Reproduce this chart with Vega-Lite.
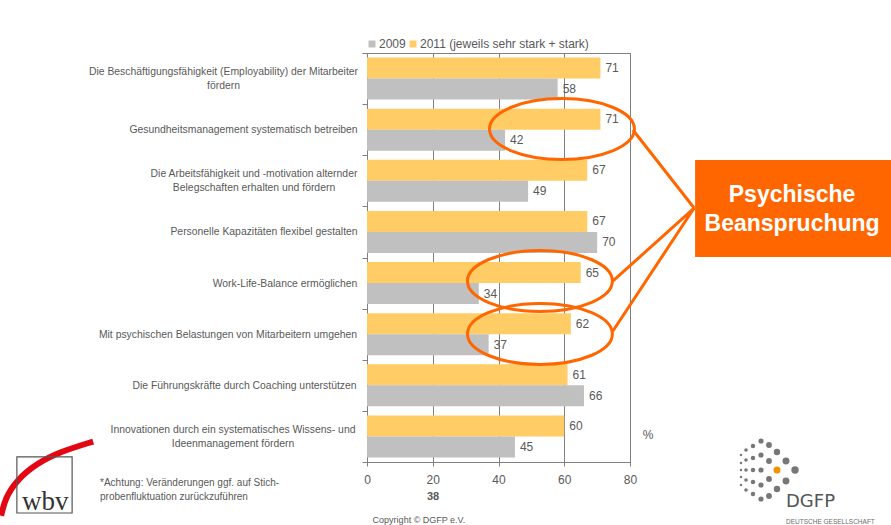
{
  "$schema": "https://vega.github.io/schema/vega-lite/v6.json",
  "width": 263,
  "height": 409,
  "autosize": {"type": "none"},
  "padding": {"left": 367, "top": 53, "right": 261, "bottom": 63},
  "background": "white",
  "config": {"view": {"stroke": "#808080", "strokeWidth": 1}, "font": "Liberation Sans"},
  "datasets": {
    "bars": [
      {"cat": "Die Beschäftigungsfähigkeit (Employability) der Mitarbeiter|fördern", "year": "2011", "value": 71},
      {"cat": "Die Beschäftigungsfähigkeit (Employability) der Mitarbeiter|fördern", "year": "2009", "value": 58},
      {"cat": "Gesundheitsmanagement systematisch betreiben", "year": "2011", "value": 71},
      {"cat": "Gesundheitsmanagement systematisch betreiben", "year": "2009", "value": 42},
      {"cat": "Die Arbeitsfähigkeit und -motivation alternder|Belegschaften erhalten und fördern", "year": "2011", "value": 67},
      {"cat": "Die Arbeitsfähigkeit und -motivation alternder|Belegschaften erhalten und fördern", "year": "2009", "value": 49},
      {"cat": "Personelle Kapazitäten flexibel gestalten", "year": "2011", "value": 67},
      {"cat": "Personelle Kapazitäten flexibel gestalten", "year": "2009", "value": 70},
      {"cat": "Work-Life-Balance ermöglichen", "year": "2011", "value": 65},
      {"cat": "Work-Life-Balance ermöglichen", "year": "2009", "value": 34},
      {"cat": "Mit psychischen Belastungen von Mitarbeitern umgehen", "year": "2011", "value": 62},
      {"cat": "Mit psychischen Belastungen von Mitarbeitern umgehen", "year": "2009", "value": 37},
      {"cat": "Die Führungskräfte durch Coaching unterstützen", "year": "2011", "value": 61},
      {"cat": "Die Führungskräfte durch Coaching unterstützen", "year": "2009", "value": 66},
      {"cat": "Innovationen durch ein systematisches Wissens- und|Ideenmanagement fördern", "year": "2011", "value": 60},
      {"cat": "Innovationen durch ein systematisches Wissens- und|Ideenmanagement fördern", "year": "2009", "value": 45}
    ],
    "ellipses": [
      {"v": 59.3, "u": 1.487},
      {"v": 52.6, "u": 4.46},
      {"v": 52.6, "u": 5.496}
    ],
    "connectors": [
      {"v": 80.9, "u": 1.506, "v2": 99.5, "u2": 3.032},
      {"v": 74.5, "u": 4.479, "v2": 99.5, "u2": 3.032},
      {"v": 74.8, "u": 5.438, "v2": 99.5, "u2": 3.032}
    ],
    "box": [{"v": 99.8, "v2": 160, "u": 2.093, "u2": 3.99, "label": "Psychische\nBeanspruchung", "cv": 129.3, "cu": 2.778}],
    "notes": [
      {"v": 85.5, "u": 7.47, "text": "%"}
    ],
    "page": [{"v": 20.1, "u": 8.685, "text": "38"}],
    "copyright": [{"v": 15.8, "u": 9.134, "text": "Copyright © DGFP e.V."}],
    "footnote": [{"v": -81.2, "u": 8.41, "text": "*Achtung: Veränderungen ggf. auf Stich-\nprobenfluktuation zurückzuführen"}],
    "wbvbox": [{"v": -106.5, "v2": -89.7, "u": 7.9, "u2": 8.998}],
    "wbvtext": [{"v": -97.9, "u": 8.94, "text": "wbv"}],
    "wbvcurve": [
      {"v": -111.3, "u": 9.05, "o": 1},
      {"v": -110.0, "u": 8.7, "o": 2},
      {"v": -106.5, "u": 8.35, "o": 3},
      {"v": -100.5, "u": 8.03, "o": 4},
      {"v": -93.4, "u": 7.8, "o": 5},
      {"v": -83.3, "u": 7.6, "o": 6}
    ],
    "dots": [
      {"v": 130.19, "u": 8.156, "ring": 8},
      {"v": 127.45, "u": 7.98, "ring": 7},
      {"v": 127.45, "u": 8.372, "ring": 7},
      {"v": 124.71, "u": 7.804, "ring": 6},
      {"v": 124.71, "u": 8.528, "ring": 6},
      {"v": 122.28, "u": 7.667, "ring": 5},
      {"v": 122.28, "u": 7.98, "ring": 5},
      {"v": 122.28, "u": 8.332, "ring": 5},
      {"v": 122.28, "u": 8.665, "ring": 5},
      {"v": 119.85, "u": 7.589, "ring": 4},
      {"v": 119.85, "u": 7.863, "ring": 4},
      {"v": 119.85, "u": 8.156, "ring": 4},
      {"v": 119.85, "u": 8.45, "ring": 4},
      {"v": 119.85, "u": 8.724, "ring": 4},
      {"v": 117.41, "u": 7.687, "ring": 3},
      {"v": 117.41, "u": 7.922, "ring": 3},
      {"v": 117.41, "u": 8.156, "ring": 3},
      {"v": 117.41, "u": 8.391, "ring": 3},
      {"v": 117.41, "u": 8.626, "ring": 3},
      {"v": 115.29, "u": 7.765, "ring": 2},
      {"v": 115.29, "u": 7.961, "ring": 2},
      {"v": 115.29, "u": 8.156, "ring": 2},
      {"v": 115.29, "u": 8.352, "ring": 2},
      {"v": 115.29, "u": 8.548, "ring": 2},
      {"v": 113.76, "u": 7.863, "ring": 1},
      {"v": 113.76, "u": 8.02, "ring": 1},
      {"v": 113.76, "u": 8.156, "ring": 1},
      {"v": 113.76, "u": 8.293, "ring": 1},
      {"v": 113.76, "u": 8.45, "ring": 1}
    ],
    "orangedot": [{"v": 124.71, "u": 8.156}],
    "dgfp": [{"v": 127.45, "u": 8.88, "text": "DGFP"}],
    "dgfpsub": [{"v": 127.45, "u": 9.213, "text": "DEUTSCHE GESELLSCHAFT"}]
  },
  "layer": [
    {
      "data": {"name": "bars"},
      "encoding": {
        "y": {
          "field": "cat", "type": "nominal", "sort": null,
          "scale": {"paddingInner": 0, "paddingOuter": 0},
          "axis": {
            "title": null, "tickBand": "extent", "tickSize": 5, "tickColor": "#808080",
            "domainColor": "#808080", "labelFontSize": 10.4, "labelColor": "#595959",
            "labelAlign": "center", "labelBaseline": "middle", "labelLineHeight": 14,
            "labelLimit": 500, "labelExpr": "split(datum.label, '|')",
            "labelOffset": {
              "condition": [
                {"test": "datum.value == 'Die Beschäftigungsfähigkeit (Employability) der Mitarbeiter|fördern'", "value": -7},
                {"test": "datum.value == 'Die Arbeitsfähigkeit und -motivation alternder|Belegschaften erhalten und fördern'", "value": -7},
                {"test": "datum.value == 'Innovationen durch ein systematisches Wissens- und|Ideenmanagement fördern'", "value": -7}
              ],
              "value": 0
            },
            "labelPadding": {
              "condition": [
                {"test": "datum.value == 'Die Beschäftigungsfähigkeit (Employability) der Mitarbeiter|fördern'", "value": 139},
                {"test": "datum.value == 'Gesundheitsmanagement systematisch betreiben'", "value": 119},
                {"test": "datum.value == 'Die Arbeitsfähigkeit und -motivation alternder|Belegschaften erhalten und fördern'", "value": 108.5},
                {"test": "datum.value == 'Personelle Kapazitäten flexibel gestalten'", "value": 98.5},
                {"test": "datum.value == 'Work-Life-Balance ermöglichen'", "value": 77.5},
                {"test": "datum.value == 'Mit psychischen Belastungen von Mitarbeitern umgehen'", "value": 134.5},
                {"test": "datum.value == 'Die Führungskräfte durch Coaching unterstützen'", "value": 118},
                {"test": "datum.value == 'Innovationen durch ein systematisches Wissens- und|Ideenmanagement fördern'", "value": 129.5}
              ],
              "value": 120
            }
          }
        },
        "yOffset": {"field": "year", "type": "nominal", "sort": ["2011", "2009"], "scale": {"paddingInner": 0, "paddingOuter": 0.217}},
        "x": {
          "field": "value", "type": "quantitative",
          "scale": {"domain": [0, 80], "nice": false},
          "axis": {
            "title": null, "values": [0, 20, 40, 60, 80], "grid": true, "gridColor": "#808080",
            "gridOpacity": 1, "gridWidth": 1, "domainColor": "#808080", "tickColor": "#808080",
            "tickSize": 4, "labelFontSize": 12, "labelColor": "#595959", "labelPadding": 8, "labelFlush": false
          }
        }
      },
      "layer": [
        {
          "mark": {"type": "bar"},
          "encoding": {
            "color": {
              "field": "year", "type": "nominal",
              "scale": {"domain": ["2009", "2011"], "range": ["#C0C0C0", "#FFCC66"]},
              "legend": {
                "orient": "none", "legendX": -1, "legendY": -15, "direction": "horizontal", "title": null,
                "symbolType": "square", "symbolSize": 49, "symbolStrokeWidth": 0, "symbolOpacity": 1,
                "labelFontSize": 12, "labelColor": "#595959", "labelOffset": 1, "columnPadding": 1,
                "padding": 0, "labelLimit": 400,
                "labelExpr": "datum.label == '2011' ? '2011 (jeweils sehr stark + stark)' : datum.label"
              }
            }
          }
        },
        {
          "mark": {"type": "text", "align": "left", "baseline": "middle", "dx": 5, "fontSize": 12, "color": "#595959"},
          "encoding": {"text": {"field": "value", "type": "quantitative"}}
        }
      ]
    },
    {
      "encoding": {
        "x": {"field": "v", "type": "quantitative", "scale": {"domain": [0, 80], "nice": false, "zero": false}, "axis": null},
        "y": {"field": "u", "type": "quantitative", "scale": {"domain": [0, 8], "nice": false, "zero": false, "reverse": true}, "axis": null}
      },
      "layer": [
        {
          "data": {"name": "ellipses"},
          "mark": {"type": "point", "shape": "M-1,0C-1,-0.232 -0.552,-0.42 0,-0.42C0.552,-0.42 1,-0.232 1,0C1,0.232 0.552,0.42 0,0.42C-0.552,0.42 -1,0.232 -1,0Z", "size": 21000, "filled": false, "stroke": "#FF6600", "strokeWidth": 3, "opacity": 1}
        },
        {
          "data": {"name": "connectors"},
          "mark": {"type": "rule", "stroke": "#FF6600", "strokeWidth": 3},
          "encoding": {"x2": {"field": "v2"}, "y2": {"field": "u2"}}
        },
        {
          "data": {"name": "box"},
          "mark": {"type": "rect", "fill": "#FF6600"},
          "encoding": {"x2": {"field": "v2"}, "y2": {"field": "u2"}}
        },
        {
          "data": {"name": "box"},
          "mark": {"type": "text", "align": "center", "baseline": "middle", "fontSize": 23, "fontWeight": "bold", "color": "white", "lineBreak": "\n", "lineHeight": 29},
          "encoding": {"x": {"field": "cv", "type": "quantitative"}, "y": {"field": "cu", "type": "quantitative"}, "text": {"field": "label"}}
        },
        {
          "data": {"name": "notes"},
          "mark": {"type": "text", "align": "center", "baseline": "middle", "fontSize": 12, "color": "#595959"},
          "encoding": {"text": {"field": "text"}}
        },
        {
          "data": {"name": "page"},
          "mark": {"type": "text", "align": "center", "baseline": "middle", "fontSize": 11, "fontWeight": "bold", "color": "#595959"},
          "encoding": {"text": {"field": "text"}}
        },
        {
          "data": {"name": "copyright"},
          "mark": {"type": "text", "align": "center", "baseline": "middle", "fontSize": 9, "color": "#595959"},
          "encoding": {"text": {"field": "text"}}
        },
        {
          "data": {"name": "footnote"},
          "mark": {"type": "text", "align": "left", "baseline": "middle", "fontSize": 10, "color": "#595959", "lineBreak": "\n", "lineHeight": 14},
          "encoding": {"text": {"field": "text"}}
        },
        {
          "data": {"name": "wbvcurve"},
          "mark": {"type": "line", "stroke": "#E30613", "strokeWidth": 6, "interpolate": "basis", "strokeCap": "butt"},
          "encoding": {"order": {"field": "o", "type": "quantitative"}}
        },
        {
          "data": {"name": "wbvbox"},
          "mark": {"type": "rect", "fill": null, "fillOpacity": 0, "stroke": "#555555", "strokeWidth": 1.2},
          "encoding": {"x2": {"field": "v2"}, "y2": {"field": "u2"}}
        },
        {
          "data": {"name": "wbvtext"},
          "mark": {"type": "text", "align": "center", "baseline": "alphabetic", "fontSize": 27, "font": "Liberation Serif", "color": "#333333"},
          "encoding": {"text": {"field": "text"}}
        },
        {
          "data": {"name": "dots"},
          "mark": {"type": "circle", "color": "#777777", "opacity": 1},
          "encoding": {"size": {"field": "ring", "type": "quantitative", "scale": {"domain": [1, 8], "range": [6, 55]}, "legend": null}}
        },
        {
          "data": {"name": "orangedot"},
          "mark": {"type": "circle", "color": "#F39200", "opacity": 1, "size": 50}
        },
        {
          "data": {"name": "dgfp"},
          "mark": {"type": "text", "align": "left", "baseline": "alphabetic", "fontSize": 18, "color": "#555555", "font": "DejaVu Sans"},
          "encoding": {"text": {"field": "text"}}
        },
        {
          "data": {"name": "dgfpsub"},
          "mark": {"type": "text", "align": "left", "baseline": "alphabetic", "fontSize": 6.5, "color": "#6D6D6D"},
          "encoding": {"text": {"field": "text"}}
        }
      ]
    }
  ],
  "resolve": {"scale": {"x": "independent", "y": "independent", "size": "independent"}}
}
